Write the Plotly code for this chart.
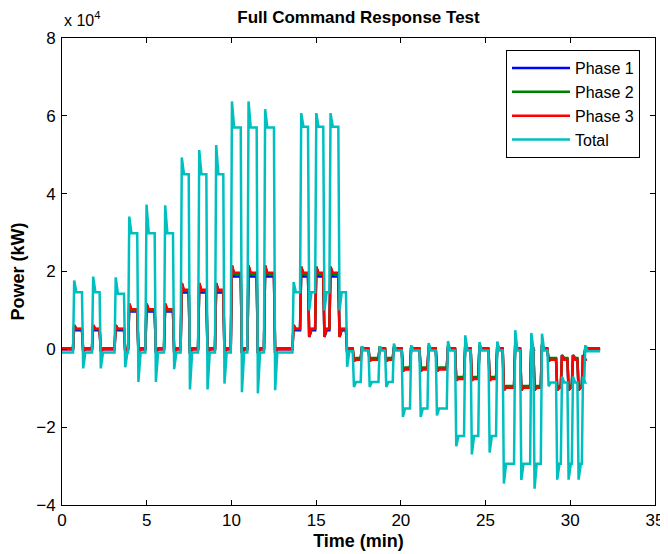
import plotly.graph_objects as go

# ---- data (power in units of 1e4 kW, time in minutes) ----
# times at which the command changes (shared by all series)
event_t = [0.65, 1.18, 1.77, 2.22, 3.10, 3.66, 3.90, 4.44, 4.92, 5.47, 6.02, 6.55,
           7.00, 7.48, 8.03, 8.52, 9.03, 9.52, 9.96, 10.55, 10.94, 11.49, 11.92, 12.51,
           13.60, 14.05, 14.52, 14.94, 15.42, 15.78, 16.31, 16.76,
           17.16, 17.63, 18.09, 18.68, 19.07, 19.52, 20.05, 20.54, 21.10, 21.57, 22.06, 22.71,
           23.20, 23.73, 24.12, 24.57, 25.17, 25.62, 26.01, 26.68, 27.04, 27.63, 27.82, 28.26,
           28.65, 29.16, 29.44, 29.83, 30.09, 30.42, 30.68, 30.82]
t_end = 31.76

# Total: transient spike value right after each change, and settled level
total_start = -0.08
total_spike = [1.77, -0.49, 1.87, -0.49, 1.85, -0.46, 3.41, -0.84, 3.72, -0.84, 3.70, -0.51,
               4.93, -1.03, 5.12, -1.03, 5.25, -0.88, 6.37, -1.10, 6.37, -1.13, 6.17, -1.05,
               1.73, 6.07, 1.00, 6.07, 1.00, 6.07, 1.00, -0.45,
               -0.97, 0.08, -0.97, 0.08, -0.97, 0.15, -1.74, 0.10, -1.74, 0.16, -1.70, 0.21,
               -2.49, 0.36, -2.70, 0.19, -2.65, 0.20, -3.45, 0.49, -3.36, 0.42, -3.58, 0.40,
               -0.95, -3.35, -0.70, -3.35, -0.70, -3.35, -0.70, 0.10]
total_level = [1.47, -0.08, 1.47, -0.08, 1.43, -0.08, 2.98, -0.08, 2.98, -0.08, 2.98, -0.08,
               4.50, -0.08, 4.50, -0.08, 4.50, -0.08, 5.70, -0.08, 5.70, -0.08, 5.70, -0.08,
               1.47, 5.72, 1.47, 5.72, 1.47, 5.72, 1.47, -0.05,
               -0.84, -0.03, -0.84, -0.03, -0.84, -0.03, -1.52, -0.03, -1.52, -0.03, -1.52, -0.03,
               -2.23, -0.03, -2.23, -0.03, -2.23, -0.03, -2.94, -0.03, -2.94, -0.03, -2.94, -0.03,
               -0.85, -2.94, -0.85, -2.94, -0.85, -2.94, -0.85, -0.05]

# Phases: transient spike (shared) and settled level per phase
phase_spike = [0.62, -0.05, 0.62, -0.05, 0.62, -0.05, 1.17, -0.08, 1.17, -0.08, 1.17, -0.08,
               1.70, -0.10, 1.70, -0.10, 1.70, -0.10, 2.15, -0.10, 2.15, -0.10, 2.15, -0.10,
               0.62, 2.12, 0.32, 2.12, 0.32, 2.12, 0.32, -0.08,
               -0.30, 0.05, -0.30, 0.05, -0.30, 0.05, -0.56, 0.06, -0.56, 0.06, -0.56, 0.06,
               -0.80, 0.10, -0.80, 0.10, -0.80, 0.10, -1.05, 0.12, -1.05, 0.12, -1.05, 0.12,
               -0.30, -1.05, -0.15, -1.05, -0.15, -1.05, -0.15, 0.06]
phase1_start = 0.0
phase1_level = [0.49, 0.0, 0.49, 0.0, 0.49, 0.0, 0.97, 0.0, 0.97, 0.0, 0.97, 0.0,
                1.46, 0.0, 1.46, 0.0, 1.46, 0.0, 1.87, 0.0, 1.87, 0.0, 1.87, 0.0,
                0.49, 1.87, 0.49, 1.87, 0.49, 1.87, 0.49, 0.0,
                -0.25, 0.0, -0.25, 0.0, -0.25, 0.0, -0.50, 0.0, -0.50, 0.0, -0.50, 0.0,
                -0.74, 0.0, -0.74, 0.0, -0.74, 0.0, -0.97, 0.0, -0.97, 0.0, -0.97, 0.0,
                -0.25, -0.97, -0.25, -0.97, -0.25, -0.97, -0.25, 0.0]
phase2_start = 0.03
phase2_level = [0.52, 0.03, 0.52, 0.03, 0.52, 0.03, 1.00, 0.03, 1.00, 0.03, 1.00, 0.03,
                1.50, 0.03, 1.50, 0.03, 1.50, 0.03, 1.93, 0.03, 1.93, 0.03, 1.93, 0.03,
                0.52, 1.93, 0.52, 1.93, 0.52, 1.93, 0.52, 0.03,
                -0.22, 0.03, -0.22, 0.03, -0.22, 0.03, -0.47, 0.03, -0.47, 0.03, -0.47, 0.03,
                -0.71, 0.03, -0.71, 0.03, -0.71, 0.03, -0.94, 0.03, -0.94, 0.03, -0.94, 0.03,
                -0.22, -0.94, -0.22, -0.94, -0.22, -0.94, -0.22, 0.03]
phase3_start = 0.0
phase3_level = [0.53, 0.0, 0.53, 0.0, 0.53, 0.0, 1.03, 0.0, 1.03, 0.0, 1.03, 0.0,
                1.53, 0.0, 1.53, 0.0, 1.53, 0.0, 1.97, 0.0, 1.97, 0.0, 1.97, 0.0,
                0.53, 1.97, 0.53, 1.97, 0.53, 1.97, 0.53, 0.0,
                -0.27, 0.0, -0.27, 0.0, -0.27, 0.0, -0.52, 0.0, -0.52, 0.0, -0.52, 0.0,
                -0.76, 0.0, -0.76, 0.0, -0.76, 0.0, -0.99, 0.0, -0.99, 0.0, -0.99, 0.0,
                -0.27, -0.99, -0.27, -0.99, -0.27, -0.99, -0.27, 0.0]

x_ticks = [0, 5, 10, 15, 20, 25, 30, 35]
y_ticks = [-4, -2, 0, 2, 4, 6, 8]


def step_series(start, spikes, levels, d1=0.07, d2=0.2):
    xs, ys = [0.0], [start]
    prev = start
    for t, s, l in zip(event_t, spikes, levels):
        xs += [t, t + d1, t + d2]
        ys += [prev, s, l]
        prev = l
    xs.append(t_end)
    ys.append(prev)
    return xs, ys


series = [
    ("Phase 1", "#0000FF", phase1_start, phase_spike, phase1_level),
    ("Phase 2", "#008000", phase2_start, phase_spike, phase2_level),
    ("Phase 3", "#FF0000", phase3_start, phase_spike, phase3_level),
    ("Total", "#00BFBF", total_start, total_spike, total_level),
]

font_family = "Arial, Liberation Sans, sans-serif"
fig = go.Figure()
for i, (name, color, st, sp, lv) in enumerate(series):
    xs, ys = step_series(st, sp, lv)
    fig.add_trace(go.Scatter(x=xs, y=ys, mode="lines", name=name,
                             legendgroup=f"g{i}",
                             line=dict(color=color, width=2.5)))

axis_common = dict(showline=True, linecolor="black", linewidth=1, mirror="allticks",
                   ticks="inside", ticklen=5, tickcolor="black", showgrid=False,
                   zeroline=False, automargin=False,
                   tickfont=dict(family=font_family, size=17, color="black"))

W, H = 660, 546
fig.update_layout(
    width=W, height=H,
    margin=dict(l=54, r=13, t=30, b=49),
    plot_bgcolor="white", paper_bgcolor="white",
    font=dict(family=font_family, color="black"),
    title=dict(text="<b>Full Command Response Test</b>", xref="paper", x=0.5, xanchor="center",
               yref="container", y=1 - 9.5 / H, yanchor="middle",
               font=dict(size=17, family=font_family, color="black")),
    xaxis=dict(range=[0, 35], tickvals=x_ticks,
               title=dict(text="<b>Time (min)</b>", font=dict(size=18), standoff=4),
               **axis_common),
    yaxis=dict(range=[-4, 8], tickvals=y_ticks, ticklabelstandoff=2,
               title=dict(text="<b>Power (kW)</b>", font=dict(size=18), standoff=8),
               **axis_common),
    legend=dict(x=0.9747, y=0.974, xanchor="right", yanchor="top",
                bordercolor="black", borderwidth=1, bgcolor="white",
                font=dict(size=16, family=font_family, color="black"),
                tracegroupgap=0, itemwidth=58),
    showlegend=True,
)

fig.add_annotation(text="x 10<sup>4</sup>", xref="paper", yref="paper",
                   x=0.0, y=1.0, xanchor="left", yanchor="bottom", yshift=7,
                   showarrow=False, font=dict(size=16, family=font_family, color="black"))

fig.write_html("out.html")
